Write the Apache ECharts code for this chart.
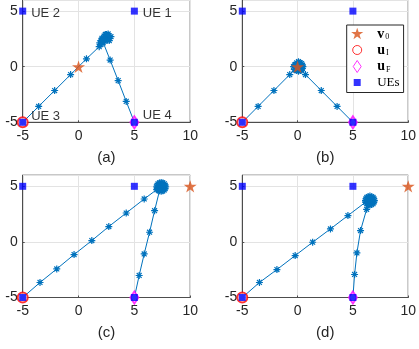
<!DOCTYPE html>
<html>
<head>
<meta charset="utf-8">
<script src="https://cdn.jsdelivr.net/npm/echarts@6/dist/echarts.min.js"></script>
<style>
html,body{margin:0;padding:0;background:#fff}
#chart{width:419px;height:349px}
</style>
</head>
<body>
<div id="chart"></div>
<script>
// UE positions (same in every panel)
var ueX = [5, -5, -5, 5];
var ueY = [5, 5, -5, -5];
var ueNames = ['UE 1', 'UE 2', 'UE 3', 'UE 4'];

// initial / final points and v0 per panel
var uI = [-5, -5];
var uF = [5, -5];
var v0List = [[0, 0], [0, 0], [10, 5], [10, 5]];
var panelLabels = ['(a)', '(b)', '(c)', '(d)'];

// UAV trajectories (the dense parts are the hovering clusters)
var trajA = [[-5,-5],[-3.57,-3.57],[-2.14,-2.14],[-0.71,-0.71],[0.71,0.71],
  [1.85,1.8],[2.0,2.0],[1.9,2.15],[2.15,2.3],[2.1,2.55],[2.3,2.75],[2.5,2.9],[2.7,2.8],
  [2.8,2.55],[2.6,2.4],[2.4,2.5],[2.55,2.65],[2.35,2.3],[2.2,2.15],[2.65,2.95],[2.4,2.9],
  [2.75,2.35],[2.25,2.6],[2.05,2.35],[2.9,2.7],[2.1,2.45],
  [2.83,0.6],[3.55,-1.25],[4.27,-3.12],[5,-5]];
var trajB = [[-5,-5],[-3.57,-3.57],[-2.14,-2.14],[-0.71,-0.71],
  [-0.3,-0.25],[-0.37,0],[-0.2,0.2],[0.08,0.45],[0.36,0.28],[0.48,0],[0.36,-0.28],[0.08,-0.4],
  [-0.2,-0.28],[-0.12,0],[0.08,0.2],[0.28,0],[0.08,-0.2],[0.08,0],[0.23,0.35],[-0.07,0.35],
  [0.43,-0.15],[-0.27,0.15],[0.43,0.15],[0.23,-0.35],[-0.07,-0.35],[0.2,0.12],[-0.04,-0.12],[0.35,-0.3],
  [0.71,-0.71],[2.14,-2.14],[3.57,-3.57],[5,-5]];
var trajC = [[-5,-5],[-3.45,-3.65],[-1.95,-2.43],[-0.4,-1.14],[1.19,0.12],[2.71,1.38],[4.27,2.6],[5.88,3.86],
  [7.0,4.7],[7.0,4.95],[7.12,5.23],[7.4,5.35],[7.68,5.23],[7.8,4.95],[7.68,4.67],[7.4,4.55],
  [7.12,4.67],[7.2,4.95],[7.4,5.15],[7.6,4.95],[7.4,4.75],[7.4,4.95],[7.55,5.3],[7.25,5.3],
  [7.75,4.8],[7.05,4.8],[7.75,5.1],[7.05,5.1],[7.55,4.6],[7.52,5.07],[7.28,4.83],[7.25,4.6],
  [6.81,2.81],[6.36,0.87],[5.88,-1.08],[5.43,-3.02],[5,-5]];
var trajD = [[-5,-5],[-3.45,-3.65],[-1.87,-2.49],[-0.22,-1.23],[1.36,-0.03],[2.97,1.17],[4.55,2.37],
  [6.14,3.57],[6.26,3.44],[6.54,3.32],[6.82,3.44],[6.94,3.72],[6.82,4.0],[6.54,4.12],[6.26,4.0],
  [6.14,3.72],[6.34,3.72],[6.54,3.52],[6.74,3.72],[6.54,3.92],[6.54,3.72],[6.69,4.07],[6.39,4.07],
  [6.89,3.57],[6.19,3.87],[6.89,3.87],[6.69,3.37],[6.39,3.37],[6.66,3.84],[6.42,3.6],[6.35,3.3],
  [6.24,2.93],[5.69,1.02],[5.36,-0.99],[5.15,-2.93],[5,-5]];
var trajs = [trajA, trajB, trajC, trajD];

var starPath = 'path://M50 0L61.17 34.63L97.55 34.55L68.07 55.87L79.39 90.45L50 69L20.61 90.45L31.93 55.87L2.45 34.55L38.83 34.63Z';
var astPath = 'path://M50 0L50 100M0 50L100 50M15 15L85 85M85 15L15 85';

var gridPos = [
  {left: 22.7, top: 0, width: 167.5, height: 122.3},
  {left: 242.3, top: 0, width: 167.7, height: 122.3},
  {left: 22.7, top: 175.2, width: 167.5, height: 122.3},
  {left: 242.3, top: 175.2, width: 167.7, height: 122.3}
];
var ueLabelDy = [2, 2, -6, -7];

var font = 'Liberation Sans';
var grids = [], xAxes = [], yAxes = [], series = [];
for (var p = 0; p < 4; p++) {
  grids.push({left: gridPos[p].left, top: gridPos[p].top, width: gridPos[p].width, height: gridPos[p].height,
    show: true, borderColor: '#4d4d4d', borderWidth: 1, backgroundColor: 'transparent'});
  xAxes.push({type: 'value', gridIndex: p, min: -5, max: 10, interval: 5,
    name: panelLabels[p], nameLocation: 'middle', nameGap: 28,
    nameTextStyle: {fontFamily: font, fontSize: 15, color: '#262626'},
    axisLine: {show: true, onZero: false, lineStyle: {color: '#4d4d4d'}},
    axisTick: {show: true, inside: true, length: 2, lineStyle: {color: '#4d4d4d'}},
    axisLabel: {fontFamily: font, fontSize: 14, color: '#262626', margin: 7},
    splitLine: {show: true, lineStyle: {color: '#e3e3e3'}}});
  yAxes.push({type: 'value', gridIndex: p, min: -5, max: 6, interval: 5,
    axisLine: {show: true, onZero: false, lineStyle: {color: '#4d4d4d'}},
    axisTick: {show: true, inside: true, length: 2, lineStyle: {color: '#4d4d4d'}},
    axisLabel: {fontFamily: font, fontSize: 14, color: '#262626', margin: 5, showMaxLabel: false},
    splitLine: {show: true, lineStyle: {color: '#e3e3e3'}}});

  series.push({name: 'traj', type: 'line', xAxisIndex: p, yAxisIndex: p, data: trajs[p],
    symbol: astPath, symbolSize: 7, showAllSymbol: true, silent: true, z: 2,
    itemStyle: {color: '#0072BD', borderColor: '#0072BD', borderWidth: 1.2},
    lineStyle: {color: '#0072BD', width: 1}});
  series.push({name: 'uI', type: 'scatter', xAxisIndex: p, yAxisIndex: p, data: [uI],
    symbol: 'emptyCircle', symbolSize: 10, silent: true, z: 3,
    itemStyle: {color: '#FF0000', borderWidth: 1}});
  series.push({name: 'uF', type: 'scatter', xAxisIndex: p, yAxisIndex: p, data: [uF],
    symbol: 'emptyDiamond', symbolSize: [8, 12], silent: true, z: 3,
    itemStyle: {color: '#FF00FF', borderWidth: 1}});
  var ueData = [];
  for (var i = 0; i < ueX.length; i++) {
    var d = {value: [ueX[i], ueY[i]]};
    if (p === 0) {
      d.label = {show: true, position: 'right', distance: 5, offset: [0, ueLabelDy[i]],
        formatter: ueNames[i], fontFamily: font, fontSize: 13, color: '#000'};
    }
    ueData.push(d);
  }
  series.push({name: 'UEs', type: 'scatter', xAxisIndex: p, yAxisIndex: p, data: ueData,
    symbol: 'rect', symbolSize: 7, silent: true, z: 4,
    itemStyle: {color: '#0000FF'}});
  series.push({name: 'v0', type: 'scatter', xAxisIndex: p, yAxisIndex: p, data: [v0List[p]],
    symbol: starPath, symbolSize: 13, symbolKeepAspect: true, silent: true, z: 5,
    itemStyle: {color: '#D95319'}});
}

var legendText = {v0: '{b|v}{s|0}', uI: '{b|u}{s|I}', uF: '{b|u}{s|F}', UEs: '{r|UEs}'};

var chart = echarts.init(document.getElementById('chart'));
chart.setOption({
  animation: false,
  grid: grids,
  xAxis: xAxes,
  yAxis: yAxes,
  legend: {
    orient: 'vertical', left: 346.7, top: 25,
    padding: [2, 4, 3, 3], itemGap: 1.5, itemWidth: 30, itemHeight: 14,
    symbolKeepAspect: true,
    backgroundColor: '#fff', borderColor: '#262626', borderWidth: 1,
    selectedMode: false,
    data: [
      {name: 'v0', icon: 'path://M-5 -5M105 105M50 0L61.17 34.63L97.55 34.55L68.07 55.87L79.39 90.45L50 69L20.61 90.45L31.93 55.87L2.45 34.55L38.83 34.63Z',
        itemStyle: {color: '#D95319', borderWidth: 0}},
      {name: 'uI', icon: 'path://M0 0M14 14M2.5 7A4.5 4.5 0 1 0 11.5 7A4.5 4.5 0 1 0 2.5 7Z',
        itemStyle: {color: 'rgba(0,0,0,0)', borderColor: '#FF0000', borderWidth: 1}},
      {name: 'uF', icon: 'path://M0 0M14 14M7 1L11 7L7 13L3 7Z',
        itemStyle: {color: 'rgba(0,0,0,0)', borderColor: '#FF00FF', borderWidth: 1}},
      {name: 'UEs', icon: 'path://M0 0M14 14M3.5 3.5L10.5 3.5L10.5 10.5L3.5 10.5Z',
        itemStyle: {color: '#0000FF', borderWidth: 0}}
    ],
    formatter: function (name) { return legendText[name]; },
    textStyle: {
      color: '#000', lineHeight: 14,
      rich: {
        b: {fontFamily: 'Liberation Serif', fontWeight: 'bold', fontSize: 14, color: '#000'},
        s: {fontFamily: 'Liberation Serif', fontSize: 8, color: '#000', padding: [6, 0, 0, 1]},
        r: {fontFamily: 'Liberation Serif', fontSize: 13, color: '#000'}
      }
    }
  },
  series: series
});
</script>
</body>
</html>
